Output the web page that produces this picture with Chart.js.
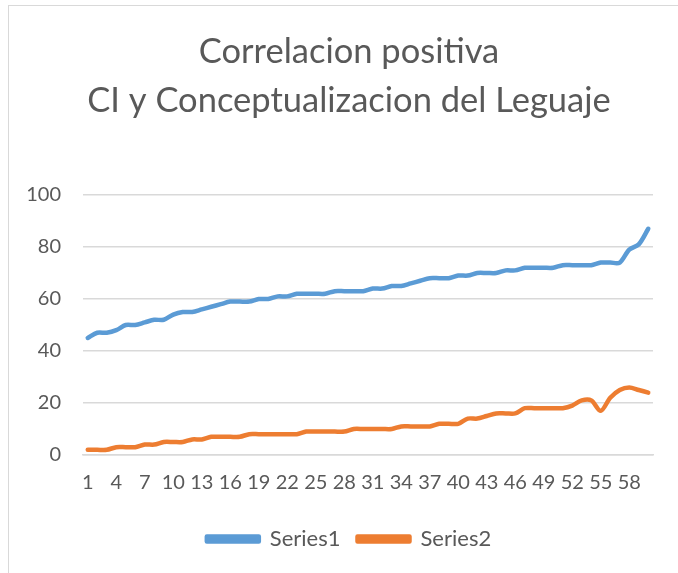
<!DOCTYPE html>
<html>
<head>
<meta charset="utf-8">
<script src="https://cdn.jsdelivr.net/npm/chart.js@4.4.0/dist/chart.umd.min.js"></script>
<style>
  html, body { margin: 0; padding: 0; background: #fff; overflow: hidden; }
  #marco {
    position: absolute; left: 8px; top: 5px; width: 682px; height: 580px;
    border: 1.5px solid #d9d9d9; box-sizing: border-box;
  }
  #grafico { position: absolute; left: 8px; top: 5px; }
</style>
</head>
<body>
<div id="marco"></div>
<canvas id="grafico" width="682" height="580"></canvas>
<script>
// === DADOS ===
const titulo = ["Correlacion positiva", "CI y Conceptualizacion del Leguaje"];
const categorias = Array.from({ length: 60 }, (_, i) => String(i + 1));
const series1 = [
  45, 47, 47, 48, 50, 50, 51, 52, 52, 54,
  55, 55, 56, 57, 58, 59, 59, 59, 60, 60,
  61, 61, 62, 62, 62, 62, 63, 63, 63, 63,
  64, 64, 65, 65, 66, 67, 68, 68, 68, 69,
  69, 70, 70, 70, 71, 71, 72, 72, 72, 72,
  73, 73, 73, 73, 74, 74, 74, 79, 81, 87
];
const series2 = [
  2, 2, 2, 3, 3, 3, 4, 4, 5, 5,
  5, 6, 6, 7, 7, 7, 7, 8, 8, 8,
  8, 8, 8, 9, 9, 9, 9, 9, 10, 10,
  10, 10, 10, 11, 11, 11, 11, 12, 12, 12,
  14, 14, 15, 16, 16, 16, 18, 18, 18, 18,
  18, 19, 21, 21, 17, 22, 25, 26, 25, 24
];
const nomesSeries = ["Series1", "Series2"];
const coresSeries = ["#5b9bd5", "#ed7d31"];

const fonte = "Lato, 'Open Sans', sans-serif";
const cinza = "#595959";

new Chart(document.getElementById("grafico"), {
  type: "line",
  data: {
    labels: categorias,
    datasets: [series1, series2].map((d, i) => ({
      label: nomesSeries[i],
      data: d,
      borderColor: coresSeries[i],
      backgroundColor: coresSeries[i],
      borderWidth: 4.5,
      pointRadius: 0,
      tension: 0.3,
      borderCapStyle: "round",
      borderJoinStyle: "round",
    })),
  },
  options: {
    responsive: false,
    animation: false,
    layout: { padding: { left: 0, right: 0, top: 0, bottom: 25 } },
    scales: {
      x: {
        offset: true,
        grid: { display: false, drawTicks: false },
        border: { color: "#d9d9d9", width: 1.5 },
        ticks: {
          autoSkip: false,
          maxRotation: 0,
          padding: 16,
          color: cinza,
          font: { family: fonte, size: 20 },
          callback: (v, i) => (i % 3 === 0 ? categorias[i] : ""),
        },
      },
      y: {
        min: 0,
        max: 100,
        grid: { color: "#d9d9d9", lineWidth: 1.5, drawTicks: false },
        border: { display: false },
        ticks: {
          stepSize: 20,
          padding: 22,
          color: cinza,
          font: { family: fonte, size: 20 },
        },
        afterFit: (s) => { s.width = 75; },
      },
      // eixo vazio à direita: só reserva a margem, mantendo título e legenda centrados
      margemDireita: {
        position: "right",
        grid: { display: false },
        border: { display: false },
        ticks: { display: false },
        afterFit: (s) => { s.width = 37; },
      },
    },
    plugins: {
      title: {
        display: true,
        text: titulo,
        color: cinza,
        font: { family: fonte, size: 34.5, weight: "normal", lineHeight: 1.42 },
        padding: { top: 22, bottom: 70 },
      },
      legend: {
        position: "bottom",
        labels: {
          boxWidth: 52,
          boxHeight: 5,
          color: cinza,
          font: { family: fonte, size: 22 },
          padding: 17,
        },
      },
      tooltip: { enabled: false },
    },
  },
});
</script>
</body>
</html>
